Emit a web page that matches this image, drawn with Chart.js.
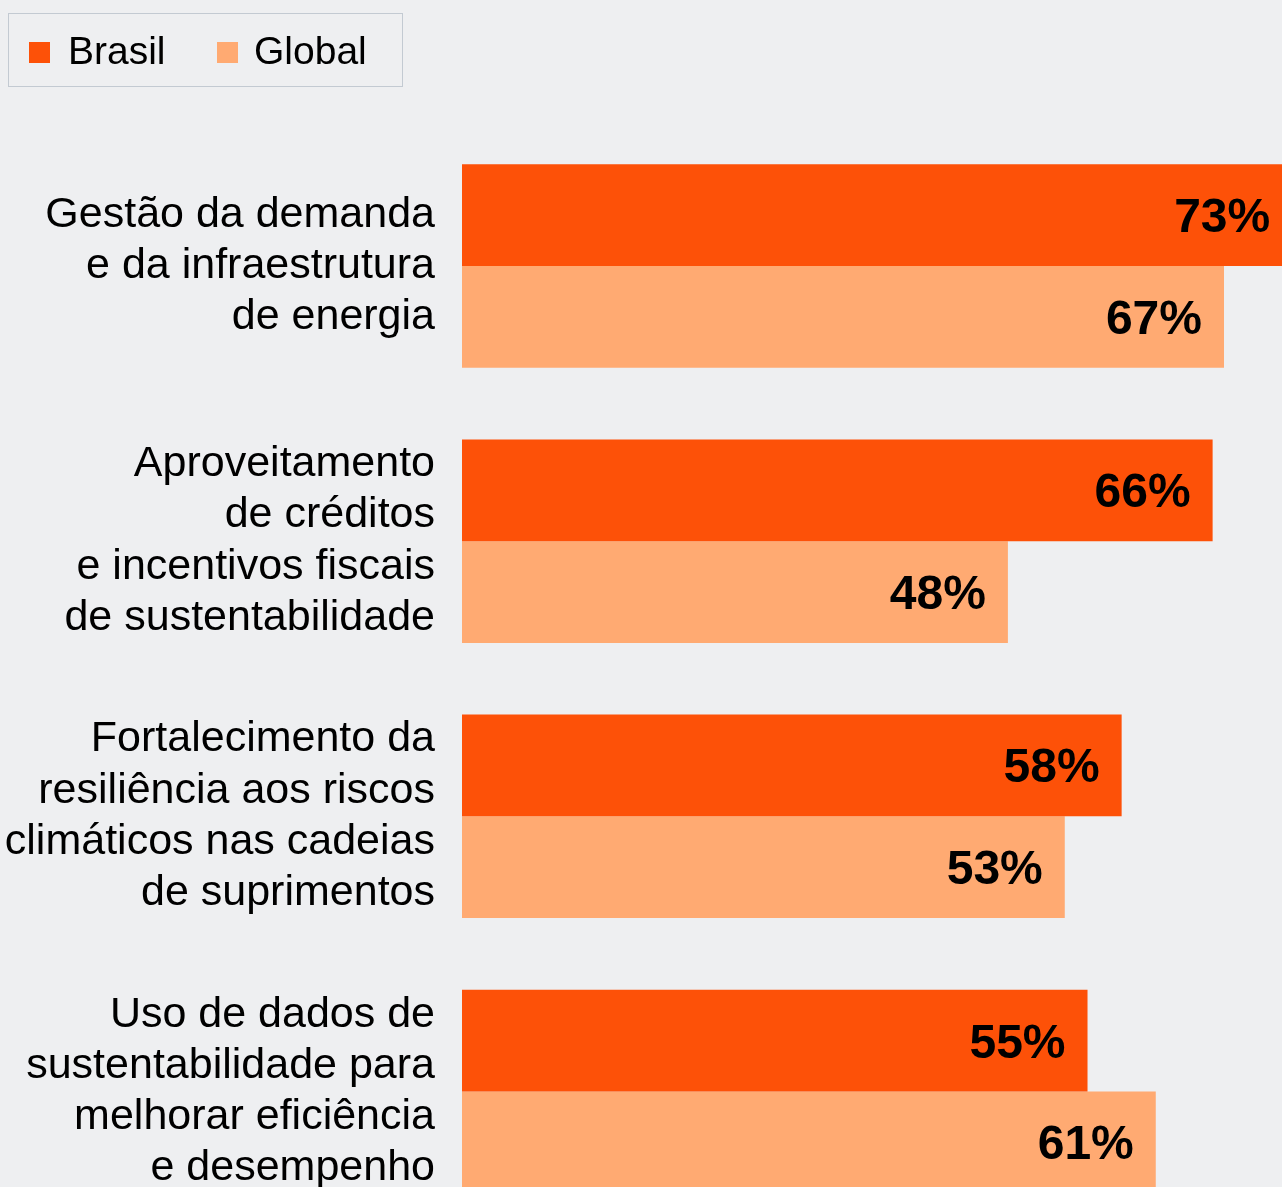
<!DOCTYPE html>
<html>
<head>
<meta charset="utf-8">
<script src="https://cdn.jsdelivr.net/npm/chart.js@4/dist/chart.umd.min.js"></script>
<style>
  html, body { margin: 0; padding: 0; background: #eeeff1; overflow: hidden; }
  #wrap { position: relative; width: 1282px; height: 1187px; overflow: hidden; }
  #c { position: absolute; left: 0; top: 0; }
  #legend { position: absolute; left: 8px; top: 13px; width: 393px; height: 72px;
            border: 1px solid #c3cad2; box-sizing: content-box; font-family: "Liberation Sans", Arial, sans-serif; }
  .sw { position: absolute; top: 28px; width: 21px; height: 21px; }
  .lt { position: absolute; top: 14px; font-size: 39px; line-height: 45px; color: #000; white-space: nowrap; }
</style>
</head>
<body>
<div id="wrap">
  <canvas id="c" width="1282" height="1229"></canvas>
  <div id="legend"></div>
</div>
<script>
const categories = [
  ["Gestão da demanda", "e da infraestrutura", "de energia"],
  ["Aproveitamento", "de créditos", "e incentivos fiscais", "de sustentabilidade"],
  ["Fortalecimento da", "resiliência aos riscos", "climáticos nas cadeias", "de suprimentos"],
  ["Uso de dados de", "sustentabilidade para", "melhorar eficiência", "e desempenho"]
];
const seriesNames = ["Brasil", "Global"];
const brasil = [73, 66, 58, 55];
const global = [67, 48, 53, 61];
const colors = ["#fd5108", "#ffaa72"];
const X_MAX = 72.1;

const valueLabels = {
  id: 'valueLabels',
  afterDatasetsDraw(chart) {
    const ctx = chart.ctx;
    ctx.save();
    ctx.font = 'bold 48px "Liberation Sans", Arial, sans-serif';
    ctx.fillStyle = '#000';
    ctx.textAlign = 'right';
    ctx.textBaseline = 'alphabetic';
    chart.data.datasets.forEach((ds, di) => {
      const meta = chart.getDatasetMeta(di);
      meta.data.forEach((bar, i) => {
        ctx.fillText(ds.data[i] + '%', bar.x - 22, bar.y + 17);
      });
    });
    ctx.restore();
  }
};

const chart = new Chart(document.getElementById('c'), {
  type: 'bar',
  data: {
    labels: categories,
    datasets: [
      { label: seriesNames[0], data: brasil, backgroundColor: colors[0] },
      { label: seriesNames[1], data: global, backgroundColor: colors[1] }
    ]
  },
  options: {
    indexAxis: 'y',
    responsive: false,
    animation: false,
    events: [],
    layout: { padding: { top: 128.5, bottom: 0, left: 0, right: 0 } },
    datasets: { bar: { categoryPercentage: 0.74, barPercentage: 1.0, borderWidth: 0 } },
    scales: {
      x: { display: false, min: 0, max: X_MAX },
      y: {
        grid: { display: false, drawTicks: false },
        border: { display: false },
        ticks: {
          padding: 27,
          color: '#000',
          font: { family: '"Liberation Sans", Arial, sans-serif', size: 43, lineHeight: 1.19 }
        },
        afterFit(scale) {
          scale.width = 462;
          scale.paddingTop = 0;
          scale.paddingBottom = 0;
        }
      }
    },
    plugins: { legend: { display: false }, tooltip: { enabled: false } }
  },
  plugins: [valueLabels]
});

// HTML legend built from the chart's datasets
const legend = document.getElementById('legend');
const itemX = [[20, 59], [208, 245]];
chart.data.datasets.forEach((ds, i) => {
  const sw = document.createElement('div');
  sw.className = 'sw';
  sw.style.left = itemX[i][0] + 'px';
  sw.style.background = ds.backgroundColor;
  const t = document.createElement('div');
  t.className = 'lt';
  t.style.left = itemX[i][1] + 'px';
  t.textContent = ds.label;
  legend.appendChild(sw);
  legend.appendChild(t);
});
</script>
</body>
</html>
